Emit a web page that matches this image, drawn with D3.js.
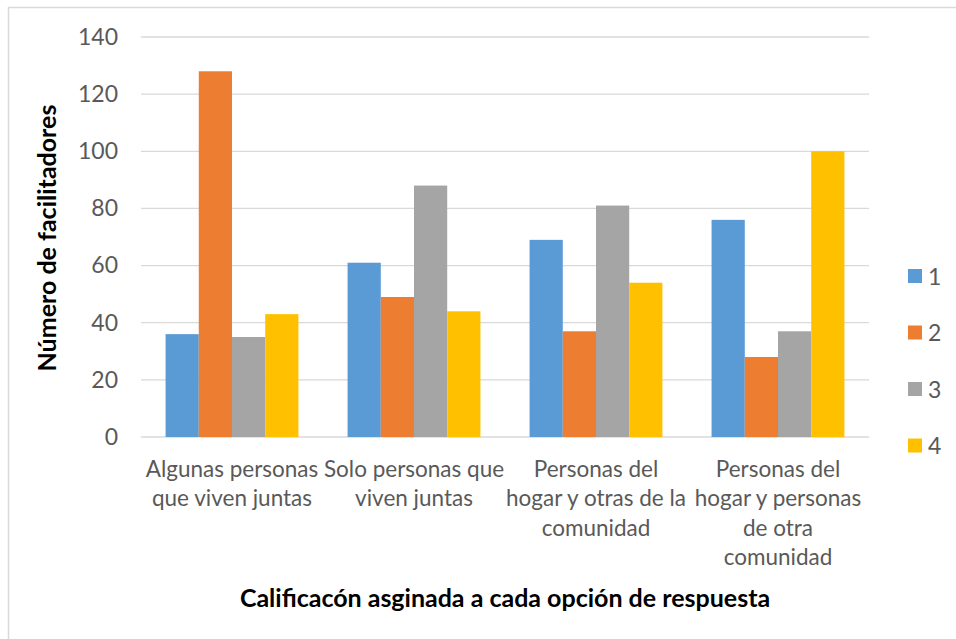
<!DOCTYPE html>
<html>
<head>
<meta charset="utf-8">
<script src="https://cdn.jsdelivr.net/npm/d3@7"></script>
<style>
  body { margin: 0; background: #fff; }
  svg text { font-family: Lato, sans-serif; }
</style>
</head>
<body>
<div id="main"></div>
<script>
// categorias do eixo x (quebras de linha como no original)
const categories = [
  ['Algunas personas', 'que viven juntas'],
  ['Solo personas que', 'viven juntas'],
  ['Personas del', 'hogar y otras de la', 'comunidad'],
  ['Personas del', 'hogar y personas', 'de otra', 'comunidad']
];
const seriesNames = ['1', '2', '3', '4'];
const serie1 = [36, 61, 69, 76];
const serie2 = [128, 49, 37, 28];
const serie3 = [35, 88, 81, 37];
const serie4 = [43, 44, 54, 100];
const yTicks = [0, 20, 40, 60, 80, 100, 120, 140];
const yTitle = 'Número de facilitadores';
const xTitle = 'Calificacón asginada a cada opción de respuesta';

const colors = ['#5b9bd5', '#ed7d31', '#a5a5a5', '#ffc000'];
const series = [serie1, serie2, serie3, serie4];

const W = 956, H = 639;
const plotLeft = 141, plotRight = 869, plotTop = 37, plotBottom = 437;

const svg = d3.select('#main')
  .append('svg')
  .attr('width', W)
  .attr('height', H);

// borda do gráfico (só topo e esquerda aparecem)
svg.append('rect')
  .attr('x', 8.5).attr('y', 7.5)
  .attr('width', 1200).attr('height', 1200)
  .attr('fill', 'none')
  .attr('stroke', '#d9d9d9')
  .attr('stroke-width', 1.5);

const idx = d3.range(categories.length);
const x0 = d3.scaleBand().domain(idx).range([plotLeft, plotRight]);
const inner = x0.bandwidth() * 0.73;
const x1 = d3.scaleBand().domain(d3.range(series.length)).range([0, inner]);
const y = d3.scaleLinear().domain([0, 140]).range([plotBottom, plotTop]);

// grade
svg.append('g')
  .selectAll('line')
  .data(yTicks)
  .enter()
  .append('line')
  .attr('x1', plotLeft).attr('x2', plotRight)
  .attr('y1', d => y(d)).attr('y2', d => y(d))
  .attr('stroke', '#d9d9d9')
  .attr('stroke-width', 1.3);

// eixo y
const yAxis = d3.axisLeft(y).tickValues(yTicks).tickSize(0).tickPadding(0);
const gy = svg.append('g')
  .attr('transform', `translate(${plotLeft - 23},0)`)
  .call(yAxis);
gy.select('.domain').remove();
gy.selectAll('text')
  .attr('fill', '#595959')
  .style('font-size', '23px');

// barras
const groups = svg.append('g')
  .selectAll('g')
  .data(idx)
  .enter()
  .append('g')
  .attr('transform', i => `translate(${x0(i) + (x0.bandwidth() - inner) / 2},0)`);

groups.selectAll('rect')
  .data(i => series.map((s, k) => ({k: k, v: s[i]})))
  .enter()
  .append('rect')
  .attr('x', d => x1(d.k))
  .attr('width', x1.bandwidth())
  .attr('y', d => y(d.v))
  .attr('height', d => y(0) - y(d.v))
  .attr('fill', d => colors[d.k]);

// rótulos das categorias
const xAxis = d3.axisBottom(x0).tickSize(0).tickFormat('');
const gx = svg.append('g')
  .attr('transform', `translate(0,${plotBottom})`)
  .call(xAxis);
gx.select('.domain').remove();
gx.selectAll('.tick').each(function(i) {
  const t = d3.select(this).append('text')
    .attr('fill', '#595959')
    .attr('text-anchor', 'middle')
    .style('font-size', '22.5px');
  categories[i].forEach((line, j) => {
    t.append('tspan')
      .attr('x', 0)
      .attr('y', 40 + j * 29.3)
      .text(line);
  });
});

// títulos dos eixos
svg.append('text')
  .attr('transform', `translate(56,238) rotate(-90)`)
  .attr('text-anchor', 'middle')
  .style('font-size', '25px')
  .style('font-weight', 'bold')
  .attr('fill', '#000')
  .text(yTitle);

svg.append('text')
  .attr('x', 505).attr('y', 607)
  .attr('text-anchor', 'middle')
  .style('font-size', '25px')
  .style('font-weight', 'bold')
  .attr('fill', '#000')
  .text(xTitle);

// legenda
const legend = svg.append('g')
  .selectAll('g')
  .data(seriesNames)
  .enter()
  .append('g')
  .attr('transform', (d, i) => `translate(908,${276 + i * 56.5})`);

legend.append('rect')
  .attr('x', 0).attr('y', -7)
  .attr('width', 14).attr('height', 14)
  .attr('fill', (d, i) => colors[i]);

legend.append('text')
  .attr('x', 20).attr('y', 8.5)
  .attr('fill', '#595959')
  .style('font-size', '23px')
  .text(d => d);
</script>
</body>
</html>
